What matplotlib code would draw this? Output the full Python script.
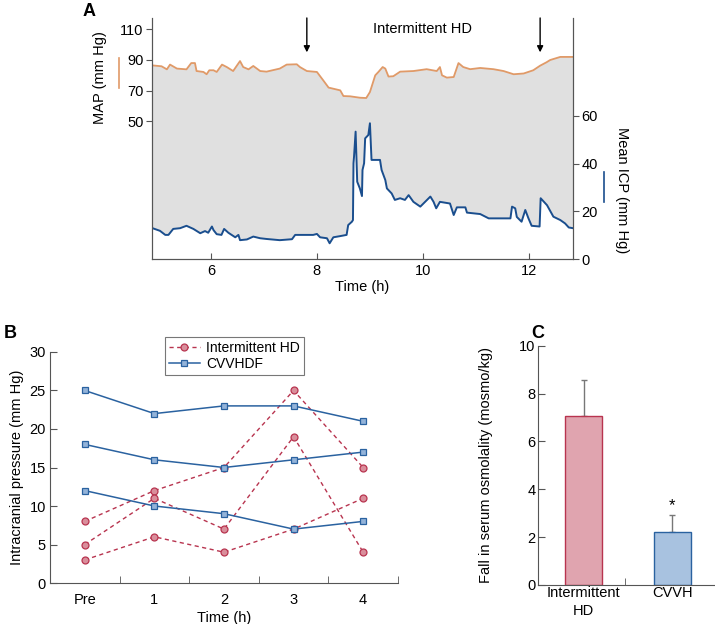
import matplotlib
matplotlib.use("Agg")
import matplotlib.pyplot as plt
import numpy as np

plt.rcParams['font.family'] = ['Liberation Sans', 'DejaVu Sans']
plt.rcParams['font.size'] = 10.5
plt.rcParams['xtick.labelsize'] = 10.5
plt.rcParams['ytick.labelsize'] = 10.5

# ---- panel A: MAP / ICP over time ----
map_t = [4.89, 5.07, 5.17, 5.23, 5.36, 5.54, 5.63, 5.70, 5.73, 5.86, 5.92, 5.97, 6.05,
         6.11, 6.21, 6.30, 6.42, 6.55, 6.61, 6.71, 6.80, 6.93, 7.05, 7.30, 7.43, 7.62,
         7.68, 7.81, 8.00, 8.12, 8.22, 8.44, 8.50, 8.63, 8.81, 8.93, 9.00, 9.10, 9.16,
         9.24, 9.29, 9.35, 9.44, 9.57, 9.82, 10.07, 10.26, 10.32, 10.36, 10.45, 10.58,
         10.67, 10.76, 10.89, 11.08, 11.33, 11.52, 11.71, 11.90, 12.08, 12.21, 12.33,
         12.40, 12.59, 12.83]
map_v = [86.5, 85.9, 83.9, 87.0, 84.4, 83.9, 88.0, 88.0, 82.8, 82.2, 80.7, 83.3, 83.3,
         82.2, 87.0, 85.4, 82.8, 89.3, 85.4, 83.9, 86.1, 82.8, 82.4, 84.4, 87.0, 87.2,
         85.4, 82.8, 82.2, 76.7, 72.0, 70.2, 66.5, 66.3, 65.4, 65.2, 69.1, 80.0, 82.2,
         85.4, 84.4, 79.2, 79.4, 82.4, 82.8, 84.0, 82.8, 85.4, 80.0, 78.5, 78.9,
         88.0, 85.4, 84.0, 84.8, 84.0, 82.8, 80.7, 81.2, 83.3, 86.3, 88.5,
         90.0, 92.0, 92.0]

icp_t = [4.90, 5.04, 5.14, 5.20, 5.29, 5.42, 5.54, 5.67, 5.80, 5.89, 5.95, 6.02, 6.05,
         6.11, 6.20, 6.25, 6.33, 6.46, 6.52, 6.55, 6.68, 6.80, 6.93, 7.05, 7.30, 7.53,
         7.59, 7.93, 8.00, 8.06, 8.19, 8.24, 8.31, 8.44, 8.56, 8.59, 8.66, 8.68, 8.69,
         8.70, 8.73, 8.76, 8.81, 8.85, 8.86, 8.89, 8.91, 8.97, 9.00, 9.03, 9.19, 9.22,
         9.29, 9.32, 9.41, 9.47, 9.57, 9.66, 9.73, 9.82, 9.95, 10.14, 10.20, 10.25,
         10.32, 10.51, 10.58, 10.64, 10.80, 10.83, 11.08, 11.24, 11.65, 11.68, 11.74,
         11.77, 11.86, 11.93, 11.99, 12.05, 12.20, 12.22, 12.34, 12.46, 12.59, 12.68,
         12.75, 12.83]
icp_v = [13.0, 11.9, 10.2, 10.2, 12.7, 13.0, 14.0, 12.7, 10.9, 11.8, 11.1, 13.7, 12.2,
         10.5, 10.2, 12.7, 11.1, 9.2, 10.2, 8.0, 8.3, 9.5, 8.8, 8.5, 8.0, 8.4,
         10.2, 10.2, 10.6, 9.2, 8.8, 6.7, 9.2, 9.7, 10.2, 14.3, 15.7, 16.4, 40.1,
         42.8, 53.3, 32.4, 29.6, 26.4, 37.3, 40.1, 50.5, 51.9, 56.8, 41.5, 41.5, 37.3,
         33.1, 29.6, 27.5, 24.8, 25.5, 24.8, 26.8, 24.0, 22.0, 26.2, 24.0, 21.3,
         24.0, 23.3, 18.5, 21.7, 21.7, 19.5, 18.9, 17.1, 17.1, 22.0, 21.3,
         17.7, 15.7, 20.6, 17.1, 14.0, 13.7, 25.5, 22.6, 17.8, 16.4, 15.0,
         13.3, 13.0]
hd_marks = [7.81, 12.21]

# ---- panel B: ICP by hour ----
hours = ['Pre', '1', '2', '3', '4']
hd_series = [[8, 12, 15, 25, 15],
             [5, 11, 7, 19, 4],
             [3, 6, 4, 7, 11]]
cvv_series = [[25, 22, 23, 23, 21],
              [18, 16, 15, 16, 17],
              [12, 10, 9, 7, 8]]

# ---- panel C: fall in osmolality ----
groups = ['Intermittent\nHD', 'CVVH']
osm_fall = [7.07, 2.23]
osm_err = [1.48, 0.69]

orange = '#E09A68'
navy = '#1A4E8E'
red = '#B8344F'
red_face = '#D98E9B'
blue = '#2A62A0'
blue_face = '#93B3D9'
spine_c = '#555555'

fig = plt.figure(figsize=(7.15, 6.24), dpi=100)

# panel A
map_lo, map_hi = -40.0, 117.4
icp_lo, icp_hi = 0.0, 100.75
axA = fig.add_axes([0.2126, 0.5844, 0.5888, 0.3868])
axA2 = axA.twinx()
icp_on_map = map_lo + (np.array(icp_v) - icp_lo) * (map_hi - map_lo) / (icp_hi - icp_lo)
axA.fill(np.concatenate([map_t, icp_t[::-1]]),
         np.concatenate([map_v, icp_on_map[::-1]]),
         color='#E0E0E0', lw=0, zorder=0)
axA.plot(map_t, map_v, color=orange, lw=1.3)
axA2.plot(icp_t, icp_v, color=navy, lw=1.4)
axA.set_xlim(4.89, 12.83)
axA.set_ylim(map_lo, map_hi)
axA2.set_ylim(icp_lo, icp_hi)
axA.set_yticks([50, 70, 90, 110])
axA2.set_yticks([0, 20, 40, 60])
axA.set_xticks([6, 8, 10, 12])
for a in (axA, axA2):
    a.spines['top'].set_visible(False)
    for s in a.spines.values():
        s.set_color(spine_c)
axA.tick_params(axis='y', direction='out', length=4, color=spine_c, pad=2)
axA.tick_params(axis='x', direction='in', length=4, color=spine_c, pad=3)
axA2.tick_params(axis='y', direction='out', length=4, color=spine_c, pad=2)
axA.set_xlabel('Time (h)', labelpad=2)
for xm in hd_marks:
    axA.annotate('', xy=(xm, 95), xytext=(xm, 117.4),
                 arrowprops=dict(arrowstyle='-|>', color='black', lw=1.0,
                                 mutation_scale=9, shrinkA=0, shrinkB=0))
axA.text(10.0, 110, 'Intermittent HD', ha='center', va='center')
fig.text(100 / 715, 1 - 78 / 624, 'MAP (mm Hg)', rotation=90, ha='center', va='center')
fig.lines.append(plt.Line2D([119 / 715, 119 / 715], [1 - 58 / 624, 1 - 88 / 624],
                            color=orange, lw=1.2, transform=fig.transFigure))
fig.text(622 / 715, 1 - 190 / 624, 'Mean ICP (mm Hg)', rotation=-90, ha='center', va='center')
fig.lines.append(plt.Line2D([604 / 715, 604 / 715], [1 - 172 / 624, 1 - 202 / 624],
                            color=navy, lw=1.2, transform=fig.transFigure))
fig.text(83 / 715, 1 - 12 / 624, 'A', fontsize=13, fontweight='bold', ha='left', va='center')

# panel B
axB = fig.add_axes([0.0699, 0.0657, 0.4867, 0.3702])
x = np.arange(len(hours))
for i, s in enumerate(hd_series):
    axB.plot(x, s, ls=(0, (3, 2.5)), color=red, lw=1.0, marker='o', ms=5,
             mfc=red_face, mec=red, mew=0.9, label='Intermittent HD' if i == 0 else None)
for i, s in enumerate(cvv_series):
    axB.plot(x, s, ls='-', color=blue, lw=1.1, marker='s', ms=5,
             mfc=blue_face, mec=blue, mew=0.9, label='CVVHDF' if i == 0 else None)
axB.set_xlim(-0.5, 4.5)
axB.set_ylim(0, 30)
axB.set_yticks(range(0, 31, 5))
axB.set_xticks(x)
axB.set_xticklabels(hours)
axB.set_xticks([0.5, 1.5, 2.5, 3.5, 4.5], minor=True)
axB.tick_params(axis='x', which='major', length=0, pad=7)
axB.tick_params(axis='x', which='minor', direction='in', length=5, color=spine_c)
axB.tick_params(axis='y', direction='in', length=5, color=spine_c, pad=3)
for k in ('top', 'right'):
    axB.spines[k].set_visible(False)
for s in axB.spines.values():
    s.set_color(spine_c)
axB.set_xlabel('Time (h)', labelpad=3)
axB.set_ylabel('Intracranial pressure (mm Hg)', labelpad=4)
leg = axB.legend(loc='upper left', bbox_to_anchor=(0.31, 1.095), fancybox=False,
                 framealpha=1, edgecolor='#777777', handlelength=2.2,
                 borderpad=0.3, labelspacing=0.15, handletextpad=0.5, fontsize=10)
leg.get_frame().set_linewidth(0.8)
fig.text(4 / 715, 1 - 333 / 624, 'B', fontsize=13, fontweight='bold', ha='left', va='center')

# panel C
axC = fig.add_axes([0.7529, 0.0625, 0.2471, 0.3835])
xc = np.arange(len(groups))
axC.bar(xc, osm_fall, width=0.42, color=[red_face, blue_face], alpha=0.8,
        edgecolor='none', zorder=2)
axC.bar(xc, osm_fall, width=0.42, color='none', edgecolor=[red, blue], lw=1.0, zorder=3)
axC.errorbar(xc, osm_fall, yerr=[[0, 0], osm_err], fmt='none', ecolor='#777777',
             elinewidth=1.0, capsize=2.5, capthick=1.0, zorder=1)
axC.text(xc[1], osm_fall[1] + osm_err[1] + 0.1, '*', ha='center', va='bottom', fontsize=12)
axC.set_xlim(-0.51, 1.48)
axC.set_ylim(0, 10)
axC.set_yticks(range(0, 11, 2))
axC.set_xticks(xc)
axC.set_xticklabels(groups, linespacing=1.3)
axC.set_xticks([0.47], minor=True)
axC.tick_params(axis='x', which='major', length=0, pad=1)
axC.tick_params(axis='x', which='minor', direction='in', length=5, color=spine_c)
axC.tick_params(axis='y', direction='in', length=5, color=spine_c, pad=2)
for k in ('top', 'right'):
    axC.spines[k].set_visible(False)
for s in axC.spines.values():
    s.set_color(spine_c)
axC.set_ylabel('Fall in serum osmolality (mosmo/kg)', labelpad=19)
fig.text(531 / 715, 1 - 333 / 624, 'C', fontsize=13, fontweight='bold', ha='left', va='center')

fig.savefig('out.png', dpi=100)
